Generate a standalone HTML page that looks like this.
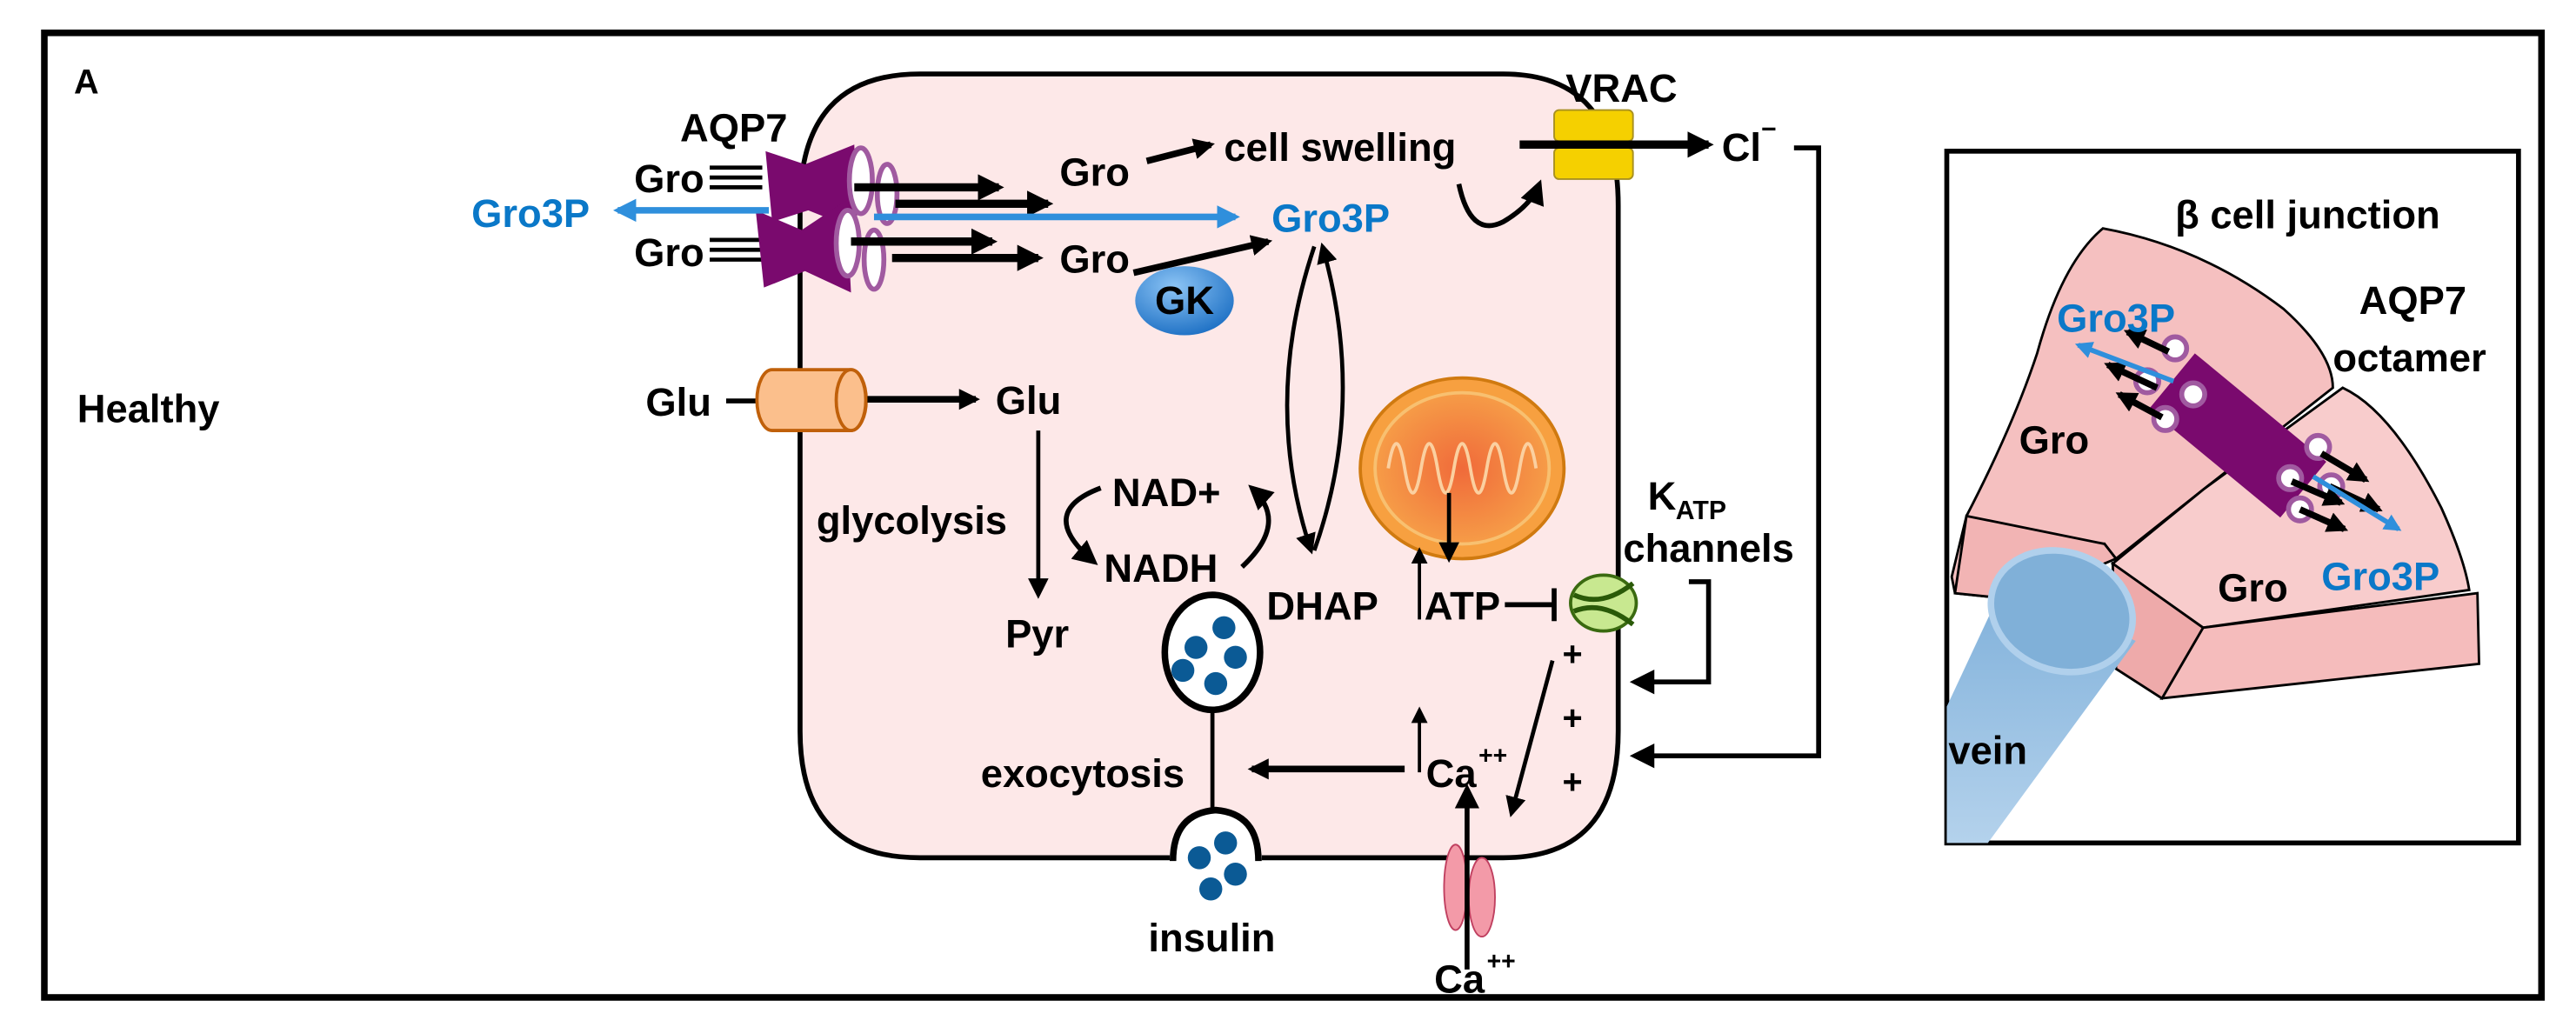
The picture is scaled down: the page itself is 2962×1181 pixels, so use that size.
<!DOCTYPE html>
<html><head><meta charset="utf-8"><style>
html,body{margin:0;padding:0;background:#fff;}
svg{display:block;}
text{font-family:"Liberation Sans",Arial,sans-serif;font-weight:bold;}
</style></head><body>
<svg width="2962" height="1181" viewBox="0 0 1568 625" preserveAspectRatio="none" xmlns="http://www.w3.org/2000/svg">
<defs>
<marker id="ah" viewBox="0 0 10 10" refX="8" refY="5" markerWidth="3.2" markerHeight="3.2" orient="auto-start-reverse"><path d="M0,0L10,5L0,10z" fill="#000"/></marker>
<marker id="ahs" viewBox="0 0 10 10" refX="8" refY="5" markerWidth="5" markerHeight="5" orient="auto-start-reverse"><path d="M0,0L10,5L0,10z" fill="#000"/></marker>
<marker id="ahb" viewBox="0 0 10 10" refX="8" refY="5" markerWidth="3.5" markerHeight="3.5" orient="auto-start-reverse"><path d="M0,0L10,5L0,10z" fill="#2f8fdc"/></marker>
<radialGradient id="gk" cx="0.4" cy="0.3" r="0.8"><stop offset="0" stop-color="#8cc4f5"/><stop offset="1" stop-color="#1469c0"/></radialGradient>
<radialGradient id="mito" cx="0.5" cy="0.5" r="0.6"><stop offset="0" stop-color="#f06a3a"/><stop offset="1" stop-color="#f7a64a"/></radialGradient>
<linearGradient id="vein" x1="0" y1="0" x2="0" y2="1"><stop offset="0" stop-color="#7fb0da"/><stop offset="1" stop-color="#b4d2ec"/></linearGradient>
</defs>

<rect x="27" y="20" width="1520" height="587" fill="#fff" stroke="#000" stroke-width="4"/>
<text x="45" y="57" font-size="21">A</text>
<text x="47" y="257" font-size="24">Healthy</text>

<path d="M560,45 H915 Q985,45 985,125 V445 Q985,522 915,522 H560 Q487,522 487,445 V125 Q487,45 560,45 Z" fill="#fde8e8" stroke="#000" stroke-width="3"/>

<!-- AQP7 -->
<text x="414" y="86" font-size="24">AQP7</text>
<text x="386" y="117" font-size="24">Gro</text>
<text x="386" y="162" font-size="24">Gro</text>
<path d="M432,102h32M432,108h32M432,114h32M432,146h32M432,152h32M432,158h32" stroke="#000" stroke-width="2.5"/>
<path d="M466,92 L490,100 L520,88 L522,140 L492,128 L470,135 Z" fill="#7a0a6e"/>
<path d="M460,128 L488,140 L515,122 L518,178 L490,165 L465,175 Z" fill="#7a0a6e"/>
<ellipse cx="524" cy="110" rx="7" ry="20" fill="#fff" stroke="#a05aa0" stroke-width="3"/>
<ellipse cx="540" cy="118" rx="6" ry="18" fill="#fff" stroke="#a05aa0" stroke-width="3"/>
<ellipse cx="516" cy="148" rx="7" ry="20" fill="#fff" stroke="#a05aa0" stroke-width="3"/>
<ellipse cx="532" cy="158" rx="6" ry="18" fill="#fff" stroke="#a05aa0" stroke-width="3"/>
<line x1="520" y1="114" x2="608" y2="114" stroke="#000" stroke-width="5" marker-end="url(#ah)"/>
<line x1="545" y1="124" x2="638" y2="124" stroke="#000" stroke-width="5" marker-end="url(#ah)"/>
<line x1="518" y1="147" x2="604" y2="147" stroke="#000" stroke-width="5" marker-end="url(#ah)"/>
<line x1="543" y1="157" x2="632" y2="157" stroke="#000" stroke-width="5" marker-end="url(#ah)"/>
<line x1="468" y1="128" x2="376" y2="128" stroke="#2f8fdc" stroke-width="4" marker-end="url(#ahb)"/>
<line x1="532" y1="132" x2="752" y2="132" stroke="#2f8fdc" stroke-width="4" marker-end="url(#ahb)"/>
<text x="287" y="138" font-size="24" fill="#0a78c8">Gro3P</text>
<text x="774" y="141" font-size="24" fill="#0a78c8">Gro3P</text>

<text x="645" y="113" font-size="24">Gro</text>
<text x="745" y="98" font-size="24">cell swelling</text>
<line x1="698" y1="98" x2="737" y2="88" stroke="#000" stroke-width="4" marker-end="url(#ah)"/>
<text x="645" y="166" font-size="24">Gro</text>
<line x1="690" y1="166" x2="772" y2="147" stroke="#000" stroke-width="4" marker-end="url(#ah)"/>
<ellipse cx="721" cy="183" rx="30" ry="21" fill="url(#gk)"/>
<text x="721" y="191" font-size="24" text-anchor="middle">GK</text>

<!-- VRAC -->
<text x="953" y="62" font-size="24">VRAC</text>
<rect x="946" y="67" width="48" height="19" rx="3" fill="#f5d000" stroke="#a89020"/>
<rect x="946" y="90" width="48" height="19" rx="3" fill="#f5d000" stroke="#a89020"/>
<line x1="925" y1="88" x2="1040" y2="88" stroke="#000" stroke-width="5" marker-end="url(#ah)"/>
<text x="1048" y="98" font-size="24">Cl</text>
<text x="1072" y="84" font-size="16">−</text>
<path d="M1092,90 H1107 V460 H995" fill="none" stroke="#000" stroke-width="3" marker-end="url(#ahs)"/>
<path d="M888,112 Q895,145 915,135 Q932,125 937,112" fill="none" stroke="#000" stroke-width="3" marker-end="url(#ahs)"/>

<path d="M800,150 Q768,245 798,335" fill="none" stroke="#000" stroke-width="2.5" marker-end="url(#ahs)"/>
<path d="M800,335 Q832,245 805,150" fill="none" stroke="#000" stroke-width="2.5" marker-end="url(#ahs)"/>

<!-- Glu -->
<text x="393" y="253" font-size="24">Glu</text>
<line x1="442" y1="244" x2="462" y2="244" stroke="#000" stroke-width="3"/>
<path d="M470,225 H518 A9,18 0 0 1 518,262 H470 A9,18 0 0 1 470,225 Z" fill="#fbbf8c" stroke="#c0600a" stroke-width="2"/>
<ellipse cx="518" cy="243.5" rx="9" ry="18.5" fill="#fbbf8c" stroke="#c0600a" stroke-width="2"/>
<line x1="528" y1="243" x2="594" y2="243" stroke="#000" stroke-width="4" marker-end="url(#ah)"/>
<text x="606" y="252" font-size="24">Glu</text>
<line x1="632" y1="262" x2="632" y2="362" stroke="#000" stroke-width="2.5" marker-end="url(#ahs)"/>
<text x="612" y="394" font-size="24">Pyr</text>
<text x="497" y="325" font-size="24">glycolysis</text>
<text x="677" y="308" font-size="24">NAD+</text>
<text x="672" y="354" font-size="24">NADH</text>
<path d="M670,297 Q630,312 666,342" fill="none" stroke="#000" stroke-width="3" marker-end="url(#ahs)"/>
<path d="M756,345 Q785,318 762,297" fill="none" stroke="#000" stroke-width="3" marker-end="url(#ahs)"/>
<text x="771" y="377" font-size="24">DHAP</text>

<!-- mitochondrion -->
<ellipse cx="890" cy="285" rx="62" ry="55" fill="#f7a040" stroke="#d07a10" stroke-width="2"/>
<ellipse cx="890" cy="285" rx="53" ry="46" fill="url(#mito)" stroke="#f8c070" stroke-width="2"/>
<path d="M845,285 q5,-30 10,0 q5,30 10,0 q5,-30 10,0 q5,30 10,0 q5,-30 10,0 q5,30 10,0 q5,-30 10,0 q5,30 10,0 q5,-30 10,0" fill="none" stroke="#fbd0a0" stroke-width="2"/>
<line x1="882" y1="300" x2="882" y2="340" stroke="#000" stroke-width="2.5" marker-end="url(#ahs)"/>
<line x1="864" y1="377" x2="864" y2="335" stroke="#000" stroke-width="2" marker-end="url(#ahs)"/>
<text x="867" y="377" font-size="24">ATP</text>
<line x1="916" y1="368" x2="946" y2="368" stroke="#000" stroke-width="3"/>
<line x1="946" y1="358" x2="946" y2="378" stroke="#000" stroke-width="3"/>
<ellipse cx="976" cy="367" rx="20" ry="17" fill="#c8e890" stroke="#3a6a10" stroke-width="2"/>
<path d="M958,362 Q975,370 994,355 M958,372 Q975,365 994,380" fill="none" stroke="#2a5a08" stroke-width="3"/>
<text x="1003" y="310" font-size="24">K</text>
<text x="1020" y="316" font-size="16">ATP</text>
<text x="988" y="342" font-size="24">channels</text>
<path d="M1028,354 H1040 V415 H995" fill="none" stroke="#000" stroke-width="3" marker-end="url(#ahs)"/>
<text x="951" y="405" font-size="21">+</text>
<text x="951" y="444" font-size="21">+</text>
<text x="951" y="483" font-size="21">+</text>

<!-- vesicle -->
<ellipse cx="738" cy="397" rx="29" ry="35" fill="#fff" stroke="#000" stroke-width="4"/>
<g fill="#0b5a95"><circle cx="745" cy="382" r="7"/><circle cx="728" cy="394" r="7"/><circle cx="752" cy="400" r="7"/><circle cx="720" cy="408" r="7"/><circle cx="740" cy="416" r="7"/></g>
<text x="597" y="479" font-size="24">exocytosis</text>
<line x1="738" y1="432" x2="738" y2="508" stroke="#000" stroke-width="2.5" marker-end="url(#ahs)"/>
<line x1="855" y1="468" x2="762" y2="468" stroke="#000" stroke-width="4" marker-end="url(#ah)"/>
<line x1="864" y1="470" x2="864" y2="432" stroke="#000" stroke-width="2" marker-end="url(#ahs)"/>
<text x="868" y="479" font-size="24">Ca</text>
<text x="900" y="465" font-size="15">++</text>
<line x1="945" y1="402" x2="920" y2="495" stroke="#000" stroke-width="2.5" marker-end="url(#ahs)"/>
<path d="M712,522 Q712,495 740,493 Q768,495 768,522 Z" fill="#fff"/>
<rect x="712" y="520" width="56" height="20" fill="#fff"/>
<path d="M714,524 Q714,495 740,493 Q766,495 766,524" fill="none" stroke="#000" stroke-width="4"/>
<g fill="#0b5a95"><circle cx="746" cy="513" r="7"/><circle cx="730" cy="522" r="7"/><circle cx="752" cy="532" r="7"/><circle cx="737" cy="541" r="7"/></g>
<text x="699" y="579" font-size="24">insulin</text>
<ellipse cx="886" cy="540" rx="7" ry="26" fill="#f39aa8" stroke="#c04060"/>
<ellipse cx="902" cy="546" rx="8" ry="24" fill="#f39aa8" stroke="#c04060"/>
<line x1="893" y1="590" x2="893" y2="480" stroke="#000" stroke-width="3" marker-end="url(#ahs)"/>
<text x="873" y="604" font-size="24">Ca</text>
<text x="905" y="590" font-size="15">++</text>

<!-- right panel -->
<rect x="1185" y="92" width="348" height="421" fill="#fff" stroke="#000" stroke-width="3"/>
<text x="1324" y="139" font-size="24" font-family="Liberation Sans, DejaVu Sans, sans-serif">β cell junction</text>
<path d="M1280,139 Q1340,150 1390,188 Q1420,215 1420,236 L1341,298 L1288,340 L1281,331 L1229,365 L1190,361 L1188,351 L1197,314 Q1225,260 1240,215 Q1255,160 1280,139 Z" fill="#f5c0c0" stroke="#000" stroke-width="1.5"/>
<path d="M1197,314 L1281,331 L1288,340 L1229,365 L1190,361 Z" fill="#f2b4b4" stroke="#000" stroke-width="1.5"/>
<path d="M1426,236 Q1456,250 1486,309 Q1500,340 1503,359 L1341,382 L1286,343 L1341,298 Z" fill="#f8cccc" stroke="#000" stroke-width="1.5"/>
<path d="M1341,382 L1508,361 L1509,404 L1316,425 Z" fill="#f5bcbc" stroke="#000" stroke-width="1.5"/>
<path d="M1286,343 L1341,382 L1316,425 L1288,407 Z" fill="#eeaaaa" stroke="#000" stroke-width="1.5"/>
<path d="M1185,430 L1220,355 L1300,390 L1210,513 L1185,513 Z" fill="url(#vein)"/>
<ellipse cx="1255" cy="372" rx="44" ry="36" transform="rotate(20 1255 372)" fill="#80b0d8" stroke="#b0d0ec" stroke-width="4"/>
<text x="1186" y="465" font-size="24">vein</text>
<line x1="1322" y1="232" x2="1402" y2="298" stroke="#7a0a6e" stroke-width="44"/>
<g fill="#fff" stroke="#a05aa0" stroke-width="3"><circle cx="1324" cy="212" r="7"/><circle cx="1335" cy="240" r="7"/><circle cx="1318" cy="255" r="7"/><circle cx="1307" cy="232" r="7"/><circle cx="1411" cy="272" r="7"/><circle cx="1394" cy="291" r="7"/><circle cx="1419" cy="296" r="7"/><circle cx="1400" cy="310" r="7"/></g>
<g stroke="#000" stroke-width="4"><line x1="1320" y1="214" x2="1295" y2="202" marker-end="url(#ah)"/><line x1="1313" y1="236" x2="1283" y2="222" marker-end="url(#ah)"/><line x1="1316" y1="254" x2="1290" y2="240" marker-end="url(#ah)"/>
<line x1="1413" y1="276" x2="1440" y2="292" marker-end="url(#ah)"/><line x1="1418" y1="296" x2="1448" y2="310" marker-end="url(#ah)"/><line x1="1400" y1="310" x2="1427" y2="322" marker-end="url(#ah)"/><line x1="1395" y1="293" x2="1425" y2="306" marker-end="url(#ah)"/></g>
<line x1="1323" y1="232" x2="1265" y2="210" stroke="#2f8fdc" stroke-width="3" marker-end="url(#ahb)"/>
<line x1="1408" y1="290" x2="1460" y2="322" stroke="#2f8fdc" stroke-width="3" marker-end="url(#ahb)"/>
<text x="1252" y="202" font-size="24" fill="#0a78c8">Gro3P</text>
<text x="1229" y="276" font-size="24">Gro</text>
<text x="1350" y="366" font-size="24">Gro</text>
<text x="1413" y="359" font-size="24" fill="#0a78c8">Gro3P</text>
<text x="1436" y="191" font-size="24">AQP7</text>
<text x="1420" y="226" font-size="24">octamer</text>
</svg>
</body></html>
